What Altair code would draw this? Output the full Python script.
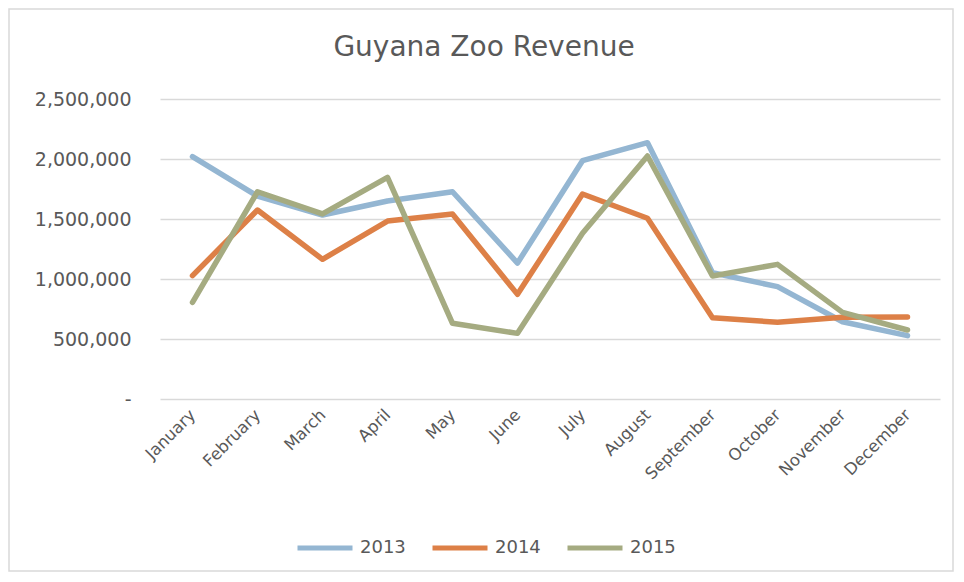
import altair as alt
import pandas as pd

months = ["January", "February", "March", "April", "May", "June", "July",
          "August", "September", "October", "November", "December"]
years = ["2013", "2014", "2015"]
rev_2013 = [2020000, 1690000, 1533000, 1650000, 1727000, 1133000, 1986000,
            2136000, 1052000, 936000, 644000, 528000]
rev_2014 = [1028000, 1575000, 1164000, 1483000, 1542000, 872000, 1708000,
            1506000, 678000, 639000, 681000, 683000]
rev_2015 = [806000, 1727000, 1542000, 1847000, 631000, 547000, 1381000,
            2025000, 1025000, 1122000, 722000, 575000]
colors = ["#94b6d2", "#dd8047", "#a5ab81"]
y_ticks = [0, 500000, 1000000, 1500000, 2000000, 2500000]

rows = []
for yr, vals in zip(years, [rev_2013, rev_2014, rev_2015]):
    for m, v in zip(months, vals):
        rows.append({"Month": m, "Year": yr, "Revenue": v})
df = pd.DataFrame(rows)

FONT = "DejaVu Sans"
GREY = "#595959"

lines = alt.Chart(df).mark_line(strokeWidth=5.5, strokeCap="round", strokeJoin="round").encode(
    x=alt.X("Month:N", sort=months, title=None,
            scale=alt.Scale(padding=0.5),
            axis=alt.Axis(labelAngle=-45, labelAlign="right", labelBaseline="middle",
                          labelPadding=13, ticks=False, domain=False, grid=False,
                          labelFont=FONT, labelFontSize=16.5, labelColor=GREY)),
    y=alt.Y("Revenue:Q", title=None,
            scale=alt.Scale(domain=[0, 2500000], nice=False),
            axis=alt.Axis(values=y_ticks, domain=False, ticks=False,
                          gridColor="#d9d9d9", gridWidth=1.3,
                          labelExpr="datum.value == 0 ? '-' : format(datum.value, ',')",
                          labelPadding=29, labelFont=FONT, labelFontSize=19, labelColor=GREY)),
    color=alt.Color("Year:N", sort=years,
                    scale=alt.Scale(domain=years, range=colors),
                    legend=alt.Legend(title=None, orient="none", direction="horizontal",
                                      legendX=135, legendY=419, columns=3,
                                      symbolType="stroke", symbolSize=3025,
                                      symbolStrokeWidth=5, columnPadding=16,
                                      labelOffset=5, labelFont=FONT, labelFontSize=18,
                                      labelColor=GREY)),
)

border = alt.Chart(pd.DataFrame({"a": [0]})).mark_rect(
    filled=False, stroke="#d9d9d9", strokeWidth=1.5
).encode(
    x=alt.value(-151), x2=alt.value(793),
    y=alt.value(-90), y2=alt.value(472),
)

chart = alt.layer(border, lines).properties(
    width=780, height=300,
    title=alt.TitleParams("Guyana Zoo Revenue", anchor="middle", frame="bounds",
                          baseline="alphabetic", dx=3, offset=-76,
                          font=FONT, fontSize=28, fontWeight="normal", color=GREY),
    autosize="none",
    padding={"left": 152, "top": 91, "right": 14, "bottom": 173},
).configure_view(stroke=None)

chart.save("out.html", embed_options={"renderer": "svg", "actions": False})
